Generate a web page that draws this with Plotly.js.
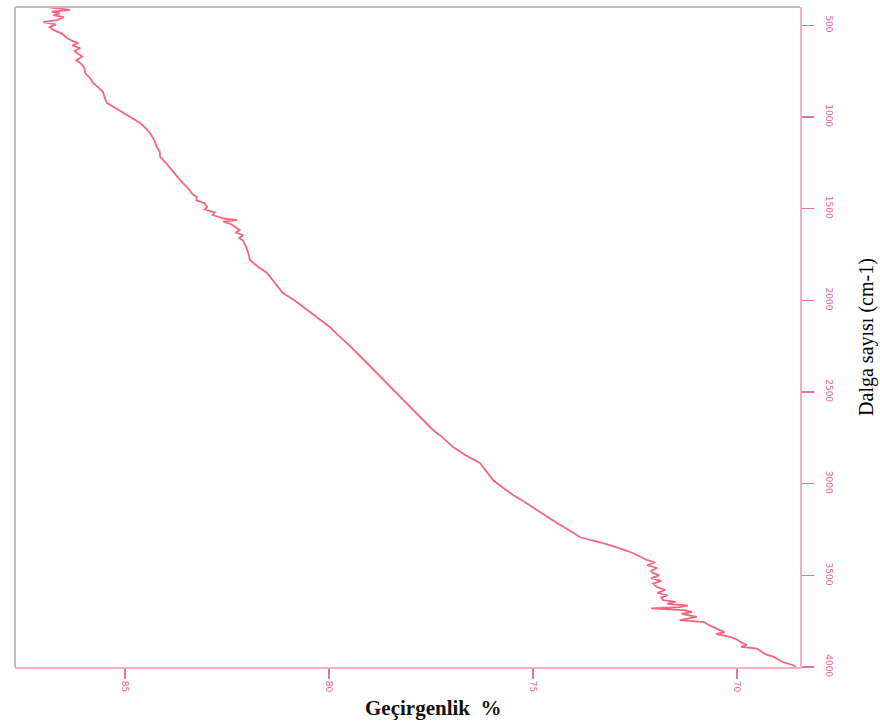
<!DOCTYPE html>
<html>
<head>
<meta charset="utf-8">
<script src="https://cdn.plot.ly/plotly-3.0.1.min.js"></script>
<style>html,body{margin:0;padding:0;background:#fff;}#chart{width:880px;height:722px;}</style>
</head>
<body>
<div id="chart"></div>
<script>
// Wavenumber (cm-1)
const wavenumber = [400,410,416,425,435,444,455,471,482,495,510,525,545,569,585,596,610,625,640,651,670,690,705,730,760,790,815,840,864,895,924,950,978,1005,1033,1060,1087,1120,1164,1190,1218,1250,1278,1310,1344,1390,1420,1436,1455,1470,1491,1505,1520,1535,1545,1555,1562,1570,1585,1600,1618,1630,1645,1660,1673,1700,1740,1780,1815,1851,1900,1960,2000,2053,2100,2145,2190,2233,2290,2342,2400,2473,2530,2582,2640,2707,2750,2800,2845,2887,2930,2980,3020,3062,3100,3144,3180,3215,3255,3291,3310,3324,3350,3378,3400,3416,3430,3445,3460,3475,3487,3500,3515,3530,3545,3564,3580,3595,3610,3620,3635,3645,3655,3665,3673,3680,3690,3700,3710,3727,3736,3744,3755,3770,3785,3798,3810,3820,3836,3850,3865,3880,3890,3900,3918,3930,3945,3962,3975,3989,4000];
// Transmittance (%)
const transmittance = [86.9,86.5,86.35,86.8,86.6,86.76,86.5,86.67,87.01,86.7,86.85,86.76,86.55,86.42,86.3,86.15,86.3,86.1,86.25,86.18,86.05,86.2,86.1,86.0,85.98,85.85,85.78,85.65,85.54,85.5,85.44,85.25,85.05,84.85,84.63,84.5,84.39,84.3,84.22,84.15,84.14,84.0,83.9,83.78,83.65,83.45,83.35,83.24,83.25,83.05,82.99,83.05,82.8,82.85,82.67,82.55,82.25,82.6,82.4,82.3,82.18,82.3,82.1,82.2,82.11,82.05,81.98,81.94,81.75,81.52,81.35,81.13,80.85,80.54,80.25,79.98,79.78,79.56,79.3,79.07,78.8,78.5,78.25,78.01,77.75,77.45,77.2,76.96,76.65,76.3,76.15,75.98,75.75,75.49,75.2,74.9,74.65,74.41,74.1,73.85,73.55,73.28,72.9,72.55,72.35,72.21,72.0,72.2,71.95,72.1,72.06,71.9,72.1,71.85,72.05,71.96,71.75,71.95,71.7,71.85,71.81,71.5,71.7,71.2,71.4,72.1,71.3,71.1,71.35,70.98,71.2,71.4,70.8,70.7,70.55,70.42,70.3,70.5,70.17,70.0,69.9,69.75,69.9,69.5,69.36,69.3,69.1,68.95,68.85,68.63,68.55];

const wavenumberTicks = [500,1000,1500,2000,2500,3000,3500,4000];
const transmittanceTicks = [85,80,75,70];

const xTitle = '<b>Geçirgenlik  %</b>';
const yTitle = 'Dalga sayısı (cm-1)';

const trace = {
  x: transmittance,
  y: wavenumber,
  type: 'scatter',
  mode: 'lines',
  line: {color: '#f4667f', width: 1.8},
  hoverinfo: 'skip'
};

const layout = {
  width: 880, height: 722,
  margin: {l: 15, r: 80, t: 7, b: 55},
  paper_bgcolor: '#ffffff',
  plot_bgcolor: '#ffffff',
  showlegend: false,
  xaxis: {
    range: [87.7, 68.45],
    tickvals: transmittanceTicks,
    ticktext: transmittanceTicks.map(String),
    tickangle: 90,
    ticks: 'outside', ticklen: 10, tickwidth: 1.5, tickcolor: '#e070b8',
    tickfont: {family: 'DejaVu Sans', size: 9, color: '#e8609a'},
    showline: true, linecolor: '#f8b0bc', linewidth: 2,
    showgrid: false, zeroline: false
  },
  yaxis: {
    side: 'right',
    range: [4000, 400],
    tickvals: wavenumberTicks,
    ticktext: wavenumberTicks.map(String),
    tickangle: 90,
    ticks: 'outside', ticklen: 12, tickwidth: 1.5, tickcolor: '#e070b8',
    ticklabelstandoff: 8,
    tickfont: {family: 'DejaVu Sans', size: 9, color: '#e8609a'},
    showline: true, linecolor: '#f8b0bc', linewidth: 2,
    showgrid: false, zeroline: false,
    title: {text: yTitle, font: {family: 'Liberation Serif', size: 20, color: '#000'}, standoff: 26}
  },
  shapes: [
    {type: 'line', xref: 'paper', yref: 'paper', x0: 0, x1: 1, y0: 1, y1: 1, line: {color: '#c8b8c0', width: 2}},
    {type: 'line', xref: 'paper', yref: 'paper', x0: 0, x1: 0, y0: 0, y1: 1, line: {color: '#c0c0c0', width: 2}}
  ],
  annotations: [
    {text: xTitle, xref: 'paper', yref: 'paper', x: 0.532, y: -0.062, yanchor: 'middle', xanchor: 'center', showarrow: false,
     font: {family: 'Liberation Serif', size: 21, color: '#111'}}
  ]
};

Plotly.newPlot('chart', [trace], layout, {displayModeBar: false, staticPlot: true});
</script>
</body>
</html>
